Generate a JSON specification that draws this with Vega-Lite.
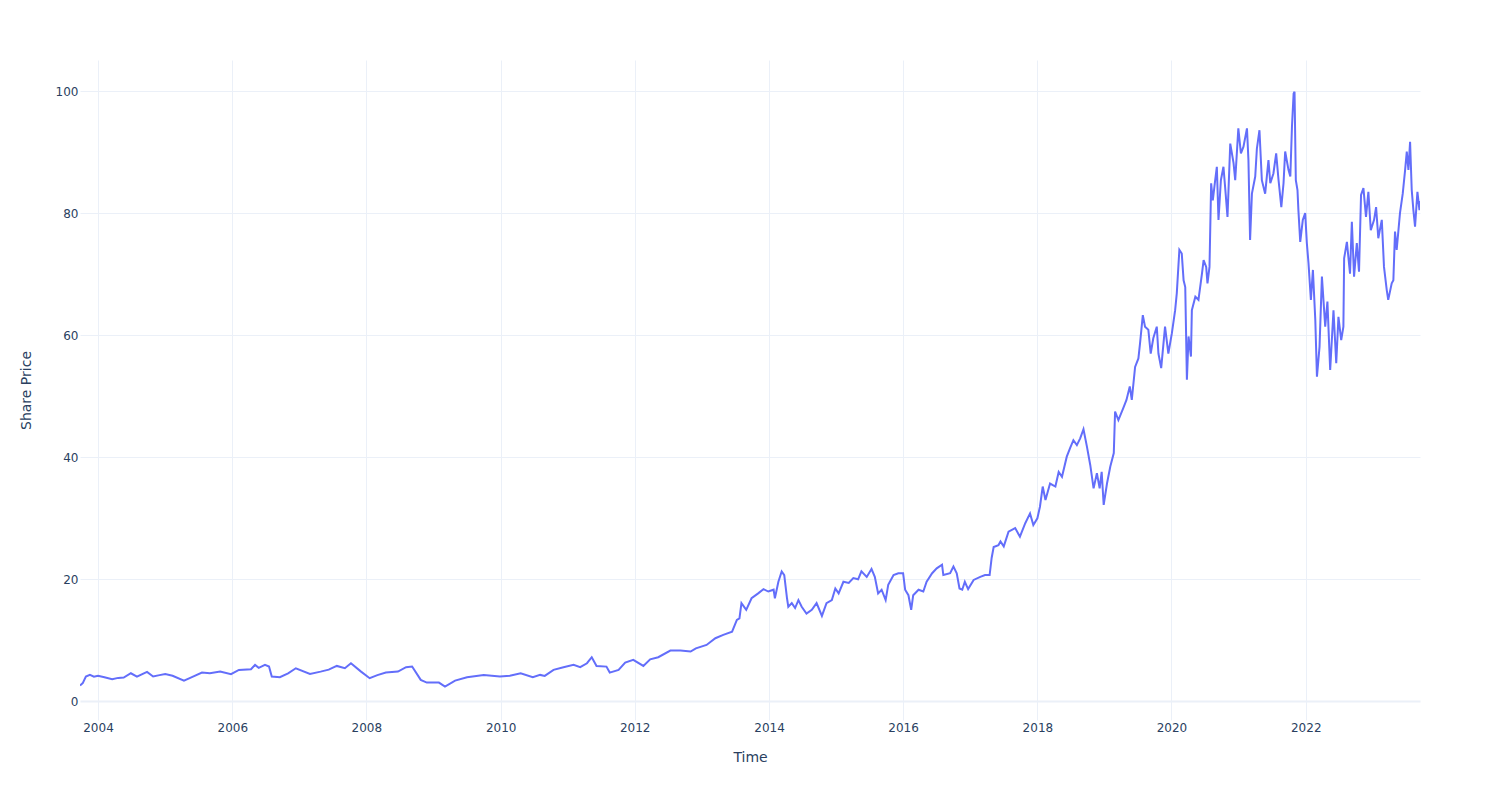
{
  "$schema": "https://vega.github.io/schema/vega-lite/v6.json",
  "width": 1340,
  "height": 660,
  "autosize": {"type": "none"},
  "padding": {"left": 80, "top": 60, "right": 80, "bottom": 80},
  "background": "white",
  "config": {"view": {"stroke": null}, "font": "DejaVu Sans"},
  "data": {"values": [
    {"date": "2003-09-25", "price": 2.6},
    {"date": "2003-10-10", "price": 3.0},
    {"date": "2003-10-27", "price": 4.07},
    {"date": "2003-11-18", "price": 4.34},
    {"date": "2003-12-10", "price": 4.05},
    {"date": "2004-01-01", "price": 4.18},
    {"date": "2004-02-05", "price": 3.95},
    {"date": "2004-03-18", "price": 3.63},
    {"date": "2004-04-20", "price": 3.85},
    {"date": "2004-05-20", "price": 3.9},
    {"date": "2004-06-28", "price": 4.61},
    {"date": "2004-07-31", "price": 4.07},
    {"date": "2004-09-24", "price": 4.83},
    {"date": "2004-10-27", "price": 4.07},
    {"date": "2004-12-01", "price": 4.3},
    {"date": "2005-01-01", "price": 4.5},
    {"date": "2005-02-10", "price": 4.2},
    {"date": "2005-04-13", "price": 3.41},
    {"date": "2005-05-20", "price": 3.9},
    {"date": "2005-07-20", "price": 4.72},
    {"date": "2005-09-01", "price": 4.6},
    {"date": "2005-10-27", "price": 4.88},
    {"date": "2005-12-25", "price": 4.45},
    {"date": "2006-02-06", "price": 5.16},
    {"date": "2006-04-13", "price": 5.27},
    {"date": "2006-05-05", "price": 5.98},
    {"date": "2006-05-25", "price": 5.5},
    {"date": "2006-06-28", "price": 5.98},
    {"date": "2006-07-20", "price": 5.7},
    {"date": "2006-08-04", "price": 4.07},
    {"date": "2006-09-17", "price": 3.96},
    {"date": "2006-11-01", "price": 4.6},
    {"date": "2006-12-13", "price": 5.43},
    {"date": "2007-02-28", "price": 4.5},
    {"date": "2007-04-27", "price": 4.88},
    {"date": "2007-06-10", "price": 5.2},
    {"date": "2007-07-24", "price": 5.81},
    {"date": "2007-09-06", "price": 5.43},
    {"date": "2007-10-09", "price": 6.25},
    {"date": "2007-12-03", "price": 4.88},
    {"date": "2008-01-19", "price": 3.8},
    {"date": "2008-03-01", "price": 4.3},
    {"date": "2008-04-16", "price": 4.72},
    {"date": "2008-06-21", "price": 4.88},
    {"date": "2008-08-04", "price": 5.6},
    {"date": "2008-09-06", "price": 5.71},
    {"date": "2008-10-23", "price": 3.52},
    {"date": "2008-11-25", "price": 3.08},
    {"date": "2009-01-30", "price": 3.08},
    {"date": "2009-03-04", "price": 2.43},
    {"date": "2009-04-28", "price": 3.41},
    {"date": "2009-07-02", "price": 3.96},
    {"date": "2009-10-01", "price": 4.34},
    {"date": "2009-12-28", "price": 4.07},
    {"date": "2010-02-20", "price": 4.2},
    {"date": "2010-04-20", "price": 4.61},
    {"date": "2010-06-25", "price": 3.96},
    {"date": "2010-08-04", "price": 4.34},
    {"date": "2010-08-29", "price": 4.18},
    {"date": "2010-10-16", "price": 5.16},
    {"date": "2010-12-09", "price": 5.6},
    {"date": "2011-02-02", "price": 5.98},
    {"date": "2011-03-10", "price": 5.6},
    {"date": "2011-04-16", "price": 6.25},
    {"date": "2011-05-12", "price": 7.24},
    {"date": "2011-06-07", "price": 5.81},
    {"date": "2011-07-31", "price": 5.7},
    {"date": "2011-08-18", "price": 4.72},
    {"date": "2011-10-05", "price": 5.16},
    {"date": "2011-11-10", "price": 6.36},
    {"date": "2011-12-24", "price": 6.8},
    {"date": "2012-02-17", "price": 5.81},
    {"date": "2012-03-25", "price": 6.9},
    {"date": "2012-05-08", "price": 7.24},
    {"date": "2012-07-13", "price": 8.32},
    {"date": "2012-09-06", "price": 8.32},
    {"date": "2012-10-31", "price": 8.16},
    {"date": "2012-11-29", "price": 8.7},
    {"date": "2013-01-26", "price": 9.25},
    {"date": "2013-03-15", "price": 10.35},
    {"date": "2013-04-27", "price": 10.9},
    {"date": "2013-06-14", "price": 11.43},
    {"date": "2013-07-10", "price": 13.35},
    {"date": "2013-07-24", "price": 13.6},
    {"date": "2013-08-04", "price": 16.1},
    {"date": "2013-08-30", "price": 15.0},
    {"date": "2013-09-28", "price": 16.9},
    {"date": "2013-11-03", "price": 17.7},
    {"date": "2013-12-02", "price": 18.4},
    {"date": "2013-12-28", "price": 18.0},
    {"date": "2014-01-26", "price": 18.3},
    {"date": "2014-02-02", "price": 16.9},
    {"date": "2014-02-21", "price": 19.6},
    {"date": "2014-03-11", "price": 21.3},
    {"date": "2014-03-25", "price": 20.7},
    {"date": "2014-04-09", "price": 16.9},
    {"date": "2014-04-16", "price": 15.5},
    {"date": "2014-05-05", "price": 16.1},
    {"date": "2014-05-23", "price": 15.3},
    {"date": "2014-06-10", "price": 16.6},
    {"date": "2014-06-28", "price": 15.5},
    {"date": "2014-07-24", "price": 14.4},
    {"date": "2014-08-22", "price": 15.0},
    {"date": "2014-09-17", "price": 16.1},
    {"date": "2014-10-16", "price": 14.0},
    {"date": "2014-11-10", "price": 16.1},
    {"date": "2014-12-09", "price": 16.6},
    {"date": "2014-12-28", "price": 18.5},
    {"date": "2015-01-15", "price": 17.7},
    {"date": "2015-02-10", "price": 19.6},
    {"date": "2015-03-11", "price": 19.4},
    {"date": "2015-04-05", "price": 20.2},
    {"date": "2015-05-01", "price": 20.0},
    {"date": "2015-05-19", "price": 21.3},
    {"date": "2015-06-17", "price": 20.4},
    {"date": "2015-07-13", "price": 21.7},
    {"date": "2015-07-31", "price": 20.4},
    {"date": "2015-08-18", "price": 17.7},
    {"date": "2015-09-06", "price": 18.3},
    {"date": "2015-09-28", "price": 16.6},
    {"date": "2015-10-12", "price": 19.1},
    {"date": "2015-11-10", "price": 20.7},
    {"date": "2015-12-06", "price": 21.0},
    {"date": "2016-01-01", "price": 21.0},
    {"date": "2016-01-12", "price": 18.3},
    {"date": "2016-01-30", "price": 17.4},
    {"date": "2016-02-14", "price": 15.0},
    {"date": "2016-02-25", "price": 17.4},
    {"date": "2016-03-25", "price": 18.3},
    {"date": "2016-04-20", "price": 18.0},
    {"date": "2016-05-08", "price": 19.6},
    {"date": "2016-06-07", "price": 21.0},
    {"date": "2016-07-02", "price": 21.8},
    {"date": "2016-07-31", "price": 22.4},
    {"date": "2016-08-07", "price": 20.7},
    {"date": "2016-09-13", "price": 21.0},
    {"date": "2016-10-01", "price": 22.1},
    {"date": "2016-10-19", "price": 21.0},
    {"date": "2016-11-03", "price": 18.5},
    {"date": "2016-11-18", "price": 18.3},
    {"date": "2016-12-02", "price": 19.6},
    {"date": "2016-12-20", "price": 18.4},
    {"date": "2017-01-19", "price": 19.9},
    {"date": "2017-02-24", "price": 20.4},
    {"date": "2017-03-22", "price": 20.7},
    {"date": "2017-04-16", "price": 20.7},
    {"date": "2017-04-27", "price": 23.5},
    {"date": "2017-05-08", "price": 25.3},
    {"date": "2017-06-03", "price": 25.6},
    {"date": "2017-06-14", "price": 26.2},
    {"date": "2017-07-02", "price": 25.4},
    {"date": "2017-07-28", "price": 27.8},
    {"date": "2017-09-02", "price": 28.4},
    {"date": "2017-09-28", "price": 27.0},
    {"date": "2017-10-27", "price": 29.2},
    {"date": "2017-11-22", "price": 30.8},
    {"date": "2017-12-10", "price": 28.9},
    {"date": "2018-01-01", "price": 30.0},
    {"date": "2018-01-15", "price": 31.9},
    {"date": "2018-01-30", "price": 35.2},
    {"date": "2018-02-14", "price": 33.0},
    {"date": "2018-03-11", "price": 35.7},
    {"date": "2018-04-09", "price": 35.2},
    {"date": "2018-04-27", "price": 37.6},
    {"date": "2018-05-15", "price": 36.8},
    {"date": "2018-06-10", "price": 40.1},
    {"date": "2018-06-28", "price": 41.5},
    {"date": "2018-07-16", "price": 42.8},
    {"date": "2018-08-04", "price": 42.0},
    {"date": "2018-08-22", "price": 43.1},
    {"date": "2018-09-09", "price": 44.6},
    {"date": "2018-09-28", "price": 41.7},
    {"date": "2018-10-16", "price": 38.7},
    {"date": "2018-11-03", "price": 34.9},
    {"date": "2018-11-21", "price": 37.4},
    {"date": "2018-12-06", "price": 34.9},
    {"date": "2018-12-17", "price": 37.6},
    {"date": "2018-12-28", "price": 32.2},
    {"date": "2019-01-15", "price": 35.7},
    {"date": "2019-02-02", "price": 38.5},
    {"date": "2019-02-21", "price": 40.7},
    {"date": "2019-02-28", "price": 47.5},
    {"date": "2019-03-18", "price": 46.1},
    {"date": "2019-04-13", "price": 48.0},
    {"date": "2019-05-01", "price": 49.4},
    {"date": "2019-05-19", "price": 51.6},
    {"date": "2019-05-30", "price": 49.4},
    {"date": "2019-06-17", "price": 54.8},
    {"date": "2019-07-05", "price": 56.2},
    {"date": "2019-07-14", "price": 58.7},
    {"date": "2019-07-29", "price": 63.3},
    {"date": "2019-08-10", "price": 61.4},
    {"date": "2019-08-28", "price": 60.9},
    {"date": "2019-09-10", "price": 57.0},
    {"date": "2019-09-24", "price": 59.5},
    {"date": "2019-10-13", "price": 61.4},
    {"date": "2019-10-22", "price": 57.0},
    {"date": "2019-11-06", "price": 54.6},
    {"date": "2019-11-27", "price": 61.4},
    {"date": "2019-12-15", "price": 57.0},
    {"date": "2020-01-03", "price": 60.3},
    {"date": "2020-01-21", "price": 64.1},
    {"date": "2020-01-30", "price": 66.9},
    {"date": "2020-02-13", "price": 74.0},
    {"date": "2020-02-26", "price": 73.4},
    {"date": "2020-03-07", "price": 69.0},
    {"date": "2020-03-16", "price": 67.9},
    {"date": "2020-03-25", "price": 52.7},
    {"date": "2020-04-03", "price": 59.8},
    {"date": "2020-04-16", "price": 56.5},
    {"date": "2020-04-21", "price": 64.1},
    {"date": "2020-05-10", "price": 66.3},
    {"date": "2020-05-27", "price": 65.8},
    {"date": "2020-06-15", "price": 70.1},
    {"date": "2020-06-24", "price": 72.3},
    {"date": "2020-07-08", "price": 71.2},
    {"date": "2020-07-15", "price": 68.5},
    {"date": "2020-07-26", "price": 71.2},
    {"date": "2020-08-04", "price": 84.9},
    {"date": "2020-08-13", "price": 82.1},
    {"date": "2020-08-26", "price": 85.4},
    {"date": "2020-09-04", "price": 87.6},
    {"date": "2020-09-13", "price": 78.9},
    {"date": "2020-09-26", "price": 85.4},
    {"date": "2020-10-10", "price": 87.6},
    {"date": "2020-10-19", "price": 84.3},
    {"date": "2020-11-01", "price": 79.4},
    {"date": "2020-11-16", "price": 91.4},
    {"date": "2020-12-04", "price": 88.2},
    {"date": "2020-12-13", "price": 85.4},
    {"date": "2020-12-30", "price": 93.9},
    {"date": "2021-01-13", "price": 89.8},
    {"date": "2021-01-27", "price": 90.9},
    {"date": "2021-02-15", "price": 93.9},
    {"date": "2021-02-23", "price": 88.7},
    {"date": "2021-03-04", "price": 75.6},
    {"date": "2021-03-14", "price": 83.2},
    {"date": "2021-04-01", "price": 86.0},
    {"date": "2021-04-10", "price": 90.6},
    {"date": "2021-04-24", "price": 93.6},
    {"date": "2021-05-07", "price": 85.4},
    {"date": "2021-05-25", "price": 83.2},
    {"date": "2021-06-12", "price": 88.7},
    {"date": "2021-06-22", "price": 84.9},
    {"date": "2021-07-09", "price": 86.5},
    {"date": "2021-07-24", "price": 89.8},
    {"date": "2021-08-06", "price": 85.4},
    {"date": "2021-08-21", "price": 81.0},
    {"date": "2021-09-02", "price": 84.9},
    {"date": "2021-09-11", "price": 90.1},
    {"date": "2021-09-29", "price": 87.1},
    {"date": "2021-10-09", "price": 86.0},
    {"date": "2021-10-18", "price": 94.2},
    {"date": "2021-10-27", "price": 99.6},
    {"date": "2021-11-01", "price": 99.9},
    {"date": "2021-11-08", "price": 85.4},
    {"date": "2021-11-17", "price": 83.8},
    {"date": "2021-11-22", "price": 80.5},
    {"date": "2021-12-02", "price": 75.3},
    {"date": "2021-12-16", "price": 78.9},
    {"date": "2021-12-29", "price": 80.0},
    {"date": "2022-01-07", "price": 75.1},
    {"date": "2022-01-16", "price": 71.8},
    {"date": "2022-01-29", "price": 65.8},
    {"date": "2022-02-09", "price": 70.7},
    {"date": "2022-02-22", "price": 62.5},
    {"date": "2022-03-03", "price": 53.2},
    {"date": "2022-03-17", "price": 58.1},
    {"date": "2022-03-30", "price": 69.6},
    {"date": "2022-04-17", "price": 61.4},
    {"date": "2022-04-29", "price": 65.5},
    {"date": "2022-05-14", "price": 54.3},
    {"date": "2022-06-01", "price": 64.1},
    {"date": "2022-06-16", "price": 55.4},
    {"date": "2022-06-28", "price": 63.0},
    {"date": "2022-07-13", "price": 59.2},
    {"date": "2022-07-25", "price": 61.4},
    {"date": "2022-07-29", "price": 72.6},
    {"date": "2022-08-13", "price": 75.3},
    {"date": "2022-08-30", "price": 70.1},
    {"date": "2022-09-09", "price": 78.6},
    {"date": "2022-09-21", "price": 69.6},
    {"date": "2022-10-06", "price": 75.1},
    {"date": "2022-10-18", "price": 70.4},
    {"date": "2022-10-29", "price": 83.0},
    {"date": "2022-11-11", "price": 84.1},
    {"date": "2022-11-25", "price": 79.4},
    {"date": "2022-12-08", "price": 83.5},
    {"date": "2022-12-21", "price": 77.2},
    {"date": "2023-01-08", "price": 78.9},
    {"date": "2023-01-19", "price": 81.0},
    {"date": "2023-01-31", "price": 75.9},
    {"date": "2023-02-19", "price": 78.9},
    {"date": "2023-03-03", "price": 71.2},
    {"date": "2023-03-18", "price": 67.4},
    {"date": "2023-03-26", "price": 65.8},
    {"date": "2023-04-14", "price": 68.5},
    {"date": "2023-04-23", "price": 69.0},
    {"date": "2023-05-02", "price": 77.0},
    {"date": "2023-05-11", "price": 74.0},
    {"date": "2023-05-29", "price": 80.0},
    {"date": "2023-06-13", "price": 83.2},
    {"date": "2023-06-26", "price": 87.1},
    {"date": "2023-07-05", "price": 90.1},
    {"date": "2023-07-14", "price": 87.1},
    {"date": "2023-07-23", "price": 91.7},
    {"date": "2023-08-01", "price": 83.8},
    {"date": "2023-08-10", "price": 80.5},
    {"date": "2023-08-19", "price": 77.8},
    {"date": "2023-09-01", "price": 83.5},
    {"date": "2023-09-12", "price": 80.5},
    {"date": "2023-09-15", "price": 82.0}
  ]},
  "mark": {"type": "line", "color": "#636efa", "strokeWidth": 2, "clip": true},
  "encoding": {
    "x": {
      "field": "date",
      "type": "temporal",
      "title": "Time",
      "scale": {"domain": ["2003-09-25", "2023-09-15"]},
      "axis": {
        "values": ["2004-01-01", "2006-01-01", "2008-01-01", "2010-01-01", "2012-01-01", "2014-01-01", "2016-01-01", "2018-01-01", "2020-01-01", "2022-01-01"],
        "format": "%Y",
        "grid": true,
        "gridColor": "#ebf0f8",
        "gridWidth": 1,
        "domain": false,
        "ticks": false,
        "labelFlush": false,
        "labelFont": "DejaVu Sans",
        "labelFontSize": 12,
        "labelColor": "#2a3f5f",
        "labelPadding": 2,
        "titleFont": "DejaVu Sans",
        "titleFontSize": 14,
        "titleFontWeight": "normal",
        "titleColor": "#2a3f5f",
        "titlePadding": 17
      }
    },
    "y": {
      "field": "price",
      "type": "quantitative",
      "title": "Share Price",
      "scale": {"domain": [-3.05, 105.1], "nice": false, "zero": false},
      "axis": {
        "values": [0, 20, 40, 60, 80, 100],
        "grid": true,
        "gridColor": "#ebf0f8",
        "gridWidth": {"condition": {"test": "datum.value === 0", "value": 2}, "value": 1},
        "domain": false,
        "ticks": false,
        "labelFont": "DejaVu Sans",
        "labelFontSize": 12,
        "labelColor": "#2a3f5f",
        "labelPadding": 2,
        "titleFont": "DejaVu Sans",
        "titleFontSize": 14,
        "titleFontWeight": "normal",
        "titleColor": "#2a3f5f",
        "titlePadding": 22
      }
    }
  }
}
